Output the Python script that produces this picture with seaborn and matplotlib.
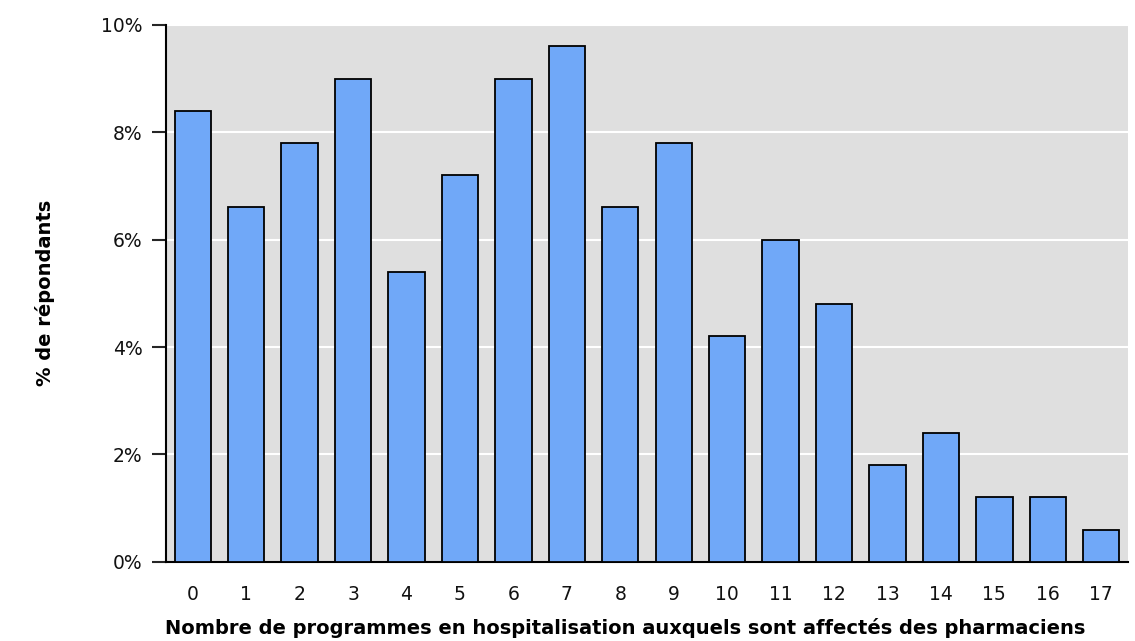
"""Bar chart: % de répondants par nombre de programmes en hospitalisation."""
import matplotlib
matplotlib.use("Agg")
import matplotlib.pyplot as plt
import pandas as pd
import seaborn as sns
from matplotlib.ticker import FuncFormatter, MultipleLocator

# data
programmes = [str(i) for i in range(18)]
pct_repondants = [8.4, 6.6, 7.8, 9.0, 5.4, 7.2, 9.0, 9.6, 6.6, 7.8,
                  4.2, 6.0, 4.8, 1.8, 2.4, 1.2, 1.2, 0.6]
x_label = "Nombre de programmes en hospitalisation auxquels sont affectés des pharmaciens"
y_label = "% de répondants"

sns.set_style("white")
plt.rcParams["font.family"] = ["DejaVu Sans"]

df = pd.DataFrame({"programmes": programmes, "pct": pct_repondants})

fig = plt.figure(figsize=(11.35, 6.41), dpi=100)
ax = fig.add_axes([0.1463, 0.1237, 0.8475, 0.8373])
ax.set_facecolor("#dfdfdf")

sns.barplot(data=df, x="programmes", y="pct", color="#70a8f8", saturation=1,
            edgecolor="black", linewidth=1.3, width=0.68, ax=ax, zorder=3)

ax.set_ylim(0, 10)
ax.set_xlim(-0.5, 17.5)
ax.yaxis.set_major_locator(MultipleLocator(2))
ax.yaxis.set_major_formatter(FuncFormatter(lambda v, _: f"{v:.0f}%"))
ax.grid(axis="y", color="white", linewidth=1.5, zorder=0)
ax.set_axisbelow(True)

for side in ("top", "right"):
    ax.spines[side].set_visible(False)
for side in ("left", "bottom"):
    ax.spines[side].set_linewidth(1.5)
    ax.spines[side].set_color("black")

ax.tick_params(axis="y", left=True, length=10, width=1.5, labelsize=13.5,
               pad=7, labelcolor="#111111")
ax.tick_params(axis="x", bottom=False, labelsize=13.5, pad=13,
               labelcolor="#111111")

ax.set_xlabel(x_label, fontsize=14, fontweight="bold", color="black")
ax.xaxis.set_label_coords(0.477, -0.104)
ax.set_ylabel(y_label, fontsize=14, fontweight="bold", color="black")
ax.yaxis.set_label_coords(-0.115, 0.5)

fig.savefig("out.png", dpi=100)
plt.close(fig)
